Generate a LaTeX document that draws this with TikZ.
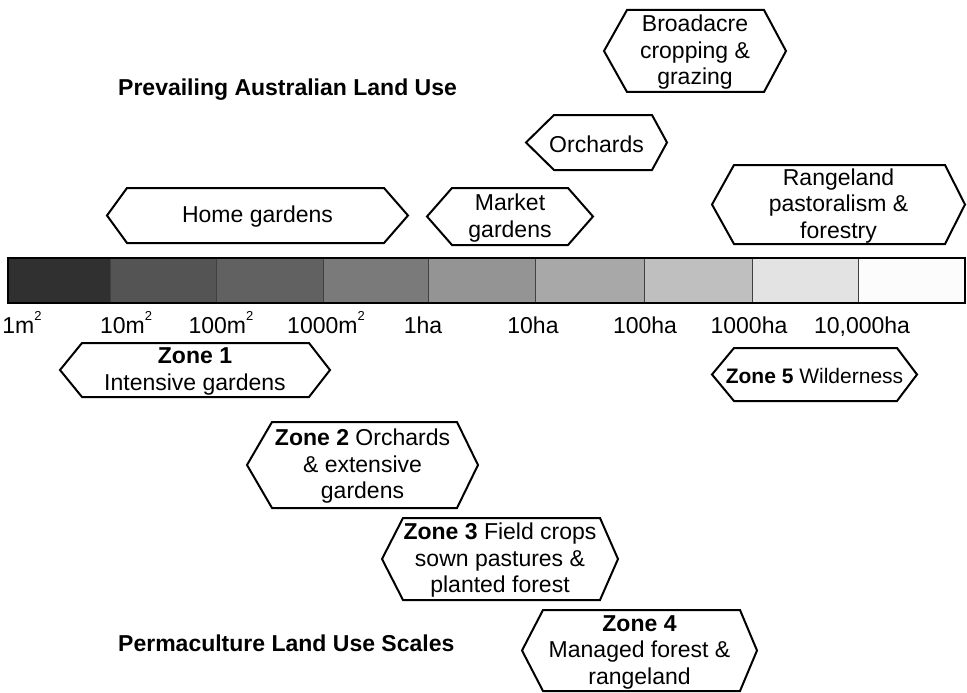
\documentclass[tikz,border=0pt]{standalone}
\usepackage{fontspec}
\setmainfont{Liberation Sans}
\definecolor{g1}{gray}{0.19}
\definecolor{g2}{gray}{0.33}
\definecolor{g3}{gray}{0.38}
\definecolor{g4}{gray}{0.48}
\definecolor{g5}{gray}{0.58}
\definecolor{g6}{gray}{0.66}
\definecolor{g7}{gray}{0.75}
\definecolor{g8}{gray}{0.89}
\definecolor{g9}{gray}{0.99}
\newcommand{\sqm}{\raisebox{0.55em}{\fontsize{13}{13}\selectfont 2}}
\tikzset{
  hexline/.style={draw=black, line width=2pt, fill=white, line join=miter},
  hextext/.style={align=center, inner sep=0pt, font=\fontsize{23}{26.5}\selectfont},
  titletext/.style={anchor=west, inner sep=0pt, font=\fontsize{23}{27}\selectfont\bfseries},
  scaletext/.style={anchor=base, inner sep=0pt, font=\fontsize{23}{27}\selectfont},
  cell/.style={draw=black!75, line width=0.8pt}
}
\newcommand{\hexbox}[8]{%
  \draw[hexline] (#2,{(#6+#7)/2}) -- ({#2+#3},#6) -- ({#5-#4},#6) -- (#5,{(#6+#7)/2}) -- ({#5-#4},#7) -- ({#2+#3},#7) -- cycle;
  \node[hextext] (#1) at ({(#2+#5)/2},{(#6+#7)/2+1.5}) {#8};}
\begin{document}
\begin{tikzpicture}[x=1pt,y=-1pt]
\useasboundingbox[fill=white] (0,0) rectangle (967,693);
% titles
\node[titletext] (ttop) at (118,90) {Prevailing Australian Land Use};
\node[titletext] (tbot) at (118,643) {Permaculture Land Use Scales};
% scale bar
\foreach \a/\b/\c [count=\i] in {8/110/g1,110/216/g2,216/323/g3,323/428/g4,428/535/g5,535/644/g6,644/752/g7,752/858/g8,858/965/g9}{
  \fill[\c] (\a,258) rectangle (\b,303);
  \draw[cell] (\a,258) rectangle (\b,303);
}
\draw[black, line width=1.6pt] (8,258) rectangle (965,303);
% scale labels
\node[scaletext] (s1) at (22,333) {1m\sqm};
\node[scaletext] (s2) at (126,333) {10m\sqm};
\node[scaletext] (s3) at (221,333) {100m\sqm};
\node[scaletext] (s4) at (326,333) {1000m\sqm};
\node[scaletext] (s5) at (423,333) {1ha};
\node[scaletext] (s6) at (533,333) {10ha};
\node[scaletext] (s7) at (645,333) {100ha};
\node[scaletext] (s8) at (749,333) {1000ha};
\node[scaletext] (s9) at (862,333) {10,000ha};
% land use boxes
\hexbox{broad}{604}{23}{22}{786}{10}{92}{Broadacre\\cropping \&\\grazing}
\hexbox{orch}{526}{28}{15}{667}{115}{170}{Orchards}
\hexbox{home}{107}{20}{24}{408}{188}{243}{Home gardens}
\hexbox{market}{427}{25}{25}{593}{188}{245}{Market\\gardens}
\hexbox{range}{712}{22}{20}{965}{165}{244}{Rangeland\\pastoralism \&\\forestry}
% zones
\hexbox{zone1}{60}{22}{21}{330}{343}{397}{\textbf{Zone 1}\\Intensive gardens}
\hexbox{zone5}{712}{22}{20}{917}{348}{401}{\fontsize{21}{25}\selectfont\textbf{Zone 5} Wilderness}
\hexbox{zone2}{247}{25}{21}{478}{422}{508}{\textbf{Zone 2} Orchards\\\& extensive\\gardens}
\hexbox{zone3}{382}{21}{18}{618}{518}{600}{\textbf{Zone 3} Field crops\\sown pastures \&\\planted forest}
\hexbox{zone4}{522}{21}{17}{757}{610}{691}{\textbf{Zone 4}\\Managed forest \&\\rangeland}
\end{tikzpicture}
\end{document}
